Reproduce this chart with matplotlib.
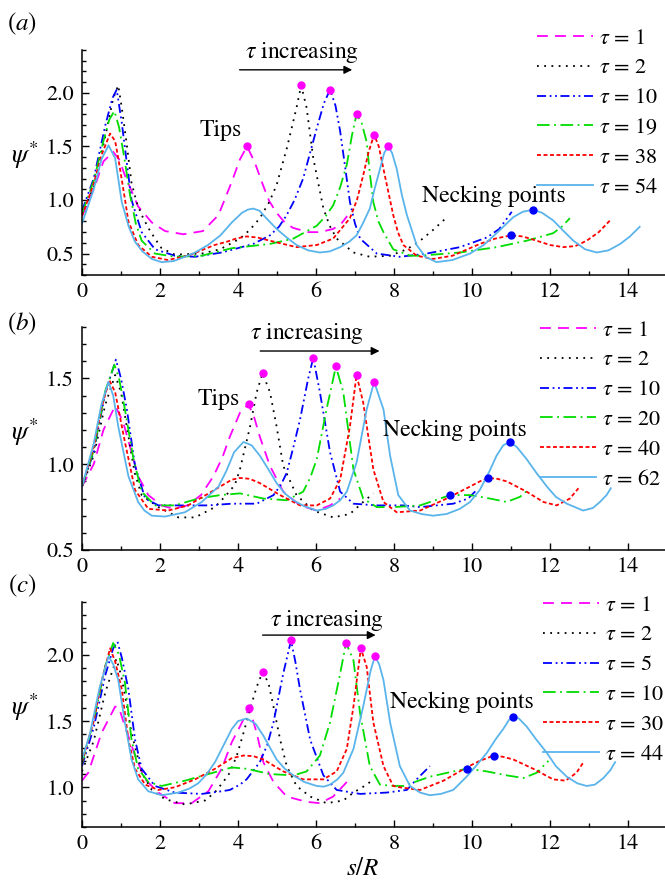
import matplotlib
matplotlib.use('Agg')
import matplotlib.pyplot as plt
from matplotlib.ticker import MultipleLocator

plt.rcParams['font.family'] = ['STIXGeneral', 'DejaVu Serif']
plt.rcParams['mathtext.fontset'] = 'stix'

# ---- panel (a) ----
a_labels = ['1', '2', '10', '19', '38', '54']
a_tau1 = [(0, 0.85), (0.3, 1.1), (0.55, 1.36), (0.8, 1.45), (0.95, 1.38), (1.1, 1.23), (1.44, 0.94),
          (1.79, 0.79), (2.13, 0.71), (2.6, 0.68), (3.1, 0.71), (3.5, 0.86), (3.84, 1.17), (4.05, 1.38),
          (4.23, 1.50), (4.42, 1.36), (4.64, 1.14), (4.8, 0.99), (4.99, 0.88), (5.2, 0.79), (5.41, 0.74),
          (5.8, 0.70), (6.1, 0.70), (6.44, 0.73), (6.65, 0.78), (6.8, 0.85)]
a_tau2 = [(0, 0.87), (0.3, 1.12), (0.6, 1.6), (0.8, 1.95), (0.93, 2.07), (1.02, 1.86), (1.14, 1.54),
          (1.27, 1.16), (1.4, 0.98), (1.53, 0.86), (1.7, 0.74), (1.87, 0.64), (2.04, 0.55), (2.38, 0.49),
          (3.07, 0.50), (3.54, 0.54), (4.05, 0.64), (4.3, 0.72), (4.56, 0.83), (4.8, 0.98), (4.99, 1.14),
          (5.25, 1.48), (5.5, 1.86), (5.62, 2.07), (5.76, 1.86), (5.93, 1.39), (6.19, 0.92), (6.35, 0.76),
          (6.53, 0.64), (6.96, 0.51), (7.38, 0.47), (7.9, 0.48), (8.33, 0.54), (8.67, 0.62), (9.0, 0.72),
          (9.33, 0.83)]
a_tau10 = [(0, 0.9), (0.3, 1.2), (0.6, 1.7), (0.78, 1.95), (0.89, 2.03), (1.02, 1.72), (1.19, 1.23),
           (1.27, 1.0), (1.53, 0.70), (1.87, 0.54), (2.38, 0.48), (2.9, 0.47), (3.58, 0.51), (3.79, 0.53),
           (4.39, 0.59), (4.82, 0.67), (5.05, 0.75), (5.25, 0.86), (5.45, 1.0), (5.67, 1.20), (6.02, 1.67),
           (6.2, 1.9), (6.36, 2.03), (6.5, 1.88), (6.62, 1.64), (6.75, 1.3), (6.87, 0.98), (7.0, 0.78),
           (7.13, 0.64), (7.56, 0.50), (8.15, 0.47), (8.84, 0.50), (9.69, 0.56), (10.38, 0.65),
           (10.7, 0.73), (11.02, 0.89)]
a_tau19 = [(0, 0.87), (0.3, 1.18), (0.55, 1.55), (0.7, 1.75), (0.83, 1.83), (0.95, 1.68), (1.1, 1.36),
           (1.23, 1.05), (1.38, 0.78), (1.53, 0.62), (1.87, 0.50), (2.38, 0.47), (3.07, 0.48), (3.84, 0.55),
           (4.82, 0.59), (5.42, 0.64), (6.02, 0.76), (6.25, 0.85), (6.44, 0.95), (6.62, 1.12), (6.79, 1.33),
           (6.92, 1.6), (7.04, 1.80), (7.17, 1.72), (7.3, 1.54), (7.38, 1.25), (7.47, 0.98), (7.6, 0.8),
           (7.73, 0.70), (7.98, 0.54), (8.41, 0.48), (8.67, 0.48), (9.69, 0.51), (10.63, 0.56),
           (11.4, 0.62), (12.08, 0.69), (12.3, 0.75), (12.51, 0.83)]
a_tau38 = [(0, 0.85), (0.3, 1.15), (0.5, 1.42), (0.72, 1.62), (0.85, 1.55), (0.93, 1.39), (1.1, 1.01),
           (1.19, 0.80), (1.44, 0.58), (1.79, 0.47), (2.2, 0.44), (2.72, 0.48), (3.4, 0.58), (3.71, 0.61),
           (3.95, 0.64), (4.22, 0.66), (4.5, 0.65), (4.82, 0.62), (5.5, 0.56), (6.02, 0.58), (6.44, 0.64),
           (6.87, 0.83), (7.05, 1.0), (7.21, 1.23), (7.35, 1.45), (7.49, 1.61), (7.61, 1.5), (7.73, 1.29),
           (7.98, 0.86), (8.1, 0.7), (8.24, 0.58), (8.58, 0.48), (9.0, 0.45), (9.5, 0.48), (10.2, 0.59),
           (10.6, 0.64), (11.0, 0.67), (11.3, 0.66), (11.66, 0.62), (12.0, 0.58), (12.34, 0.56),
           (12.65, 0.57), (12.94, 0.62), (13.25, 0.7), (13.54, 0.81)]
a_tau54 = [(0, 0.78), (0.3, 1.1), (0.5, 1.38), (0.68, 1.51), (0.85, 1.39), (1.02, 0.98), (1.2, 0.75),
           (1.36, 0.61), (1.55, 0.52), (1.79, 0.45), (2.04, 0.42), (2.35, 0.43), (2.64, 0.47), (2.9, 0.51),
           (3.23, 0.58), (3.55, 0.67), (3.84, 0.79), (4.1, 0.88), (4.25, 0.91), (4.39, 0.92), (4.55, 0.9),
           (4.7, 0.84), (4.99, 0.73), (5.25, 0.65), (5.5, 0.58), (5.8, 0.53), (6.1, 0.51), (6.35, 0.52),
           (6.62, 0.56), (6.85, 0.61), (7.04, 0.67), (7.2, 0.78), (7.38, 0.92), (7.5, 1.1), (7.64, 1.29),
           (7.75, 1.44), (7.85, 1.50), (7.95, 1.44), (8.07, 1.29), (8.2, 1.05), (8.33, 0.86), (8.58, 0.58),
           (8.8, 0.47), (9.09, 0.42), (9.5, 0.44), (9.95, 0.50), (10.3, 0.58), (10.63, 0.69), (11.06, 0.84),
           (11.3, 0.89), (11.57, 0.91), (11.8, 0.88), (12.08, 0.81), (12.35, 0.71), (12.6, 0.62),
           (12.9, 0.54), (13.2, 0.51), (13.5, 0.53), (13.8, 0.59), (14.05, 0.66), (14.3, 0.75)]
a_tips = [(4.23, 1.50), (5.62, 2.07), (6.36, 2.03), (7.04, 1.80), (7.49, 1.61), (7.85, 1.50)]
a_necks = [(11.0, 0.67), (11.57, 0.91)]

# ---- panel (b) ----
b_labels = ['1', '2', '10', '20', '40', '62']
b_tau1 = [(0, 0.87), (0.3, 1.0), (0.55, 1.2), (0.85, 1.34), (1.05, 1.25), (1.27, 1.07), (1.44, 0.93),
          (1.7, 0.82), (2.04, 0.76), (2.34, 0.74), (2.7, 0.76), (3.05, 0.82), (3.37, 0.93), (3.6, 1.04),
          (3.79, 1.16), (4.05, 1.3), (4.27, 1.35), (4.42, 1.27), (4.56, 1.16), (4.82, 0.99), (5.16, 0.84),
          (5.59, 0.76), (6.02, 0.73), (6.36, 0.76), (6.62, 0.80)]
b_tau2 = [(0, 0.87), (0.3, 1.05), (0.6, 1.35), (0.85, 1.52), (1.0, 1.42), (1.2, 1.15), (1.35, 0.95),
          (1.53, 0.82), (1.96, 0.75), (2.47, 0.69), (2.9, 0.69), (3.41, 0.75), (3.7, 0.82), (3.92, 0.88),
          (4.05, 0.97), (4.31, 1.22), (4.48, 1.42), (4.63, 1.53), (4.82, 1.42), (4.99, 1.22), (5.16, 0.99),
          (5.5, 0.82), (5.93, 0.73), (6.44, 0.69), (6.87, 0.71), (7.21, 0.78), (7.47, 0.83)]
b_tau10 = [(0, 0.87), (0.3, 1.07), (0.6, 1.42), (0.87, 1.61), (1.0, 1.5), (1.15, 1.32), (1.36, 0.99),
           (1.62, 0.80), (1.96, 0.76), (2.56, 0.76), (3.24, 0.76), (3.84, 0.77), (4.48, 0.77), (4.91, 0.82),
           (5.1, 0.88), (5.25, 0.95), (5.42, 1.1), (5.59, 1.26), (5.8, 1.5), (5.93, 1.62), (6.1, 1.42),
           (6.36, 1.07), (6.62, 0.84), (6.96, 0.77), (7.56, 0.76), (8.24, 0.76), (8.67, 0.75),
           (9.52, 0.77), (9.9, 0.8), (10.12, 0.85)]
b_tau20 = [(0, 0.87), (0.3, 1.08), (0.6, 1.43), (0.83, 1.58), (0.95, 1.5), (1.1, 1.32), (1.32, 1.03),
           (1.53, 0.84), (1.87, 0.76), (2.38, 0.76), (2.98, 0.80), (3.54, 0.82), (4.05, 0.83), (4.65, 0.80),
           (5.25, 0.79), (5.67, 0.84), (5.85, 0.92), (6.02, 1.03), (6.27, 1.32), (6.51, 1.57), (6.7, 1.42),
           (6.96, 0.97), (7.21, 0.80), (7.56, 0.75), (8.0, 0.75), (8.67, 0.76), (9.44, 0.82), (9.95, 0.82),
           (10.46, 0.80), (10.89, 0.78), (11.23, 0.81), (11.44, 0.85)]
b_tau40 = [(0, 0.87), (0.3, 1.1), (0.5, 1.33), (0.7, 1.49), (0.85, 1.42), (1.1, 1.13), (1.36, 0.85),
           (1.7, 0.74), (2.21, 0.73), (2.72, 0.76), (3.32, 0.84), (3.84, 0.91), (4.05, 0.92), (4.3, 0.915),
           (4.56, 0.89), (5.08, 0.82), (5.59, 0.76), (6.02, 0.76), (6.36, 0.80), (6.62, 0.91), (6.87, 1.22),
           (7.04, 1.52), (7.21, 1.36), (7.47, 0.97), (7.73, 0.78), (8.07, 0.72), (8.67, 0.73), (9.35, 0.80),
           (9.95, 0.87), (10.2, 0.9), (10.42, 0.92), (10.65, 0.915), (10.89, 0.90), (11.4, 0.84),
           (11.83, 0.78), (12.17, 0.76), (12.51, 0.80), (12.73, 0.86)]
b_tau62 = [(0, 0.87), (0.3, 1.12), (0.5, 1.35), (0.68, 1.48), (0.8, 1.4), (0.93, 1.22), (1.19, 0.93),
           (1.44, 0.78), (1.6, 0.73), (1.79, 0.70), (2.13, 0.695), (2.64, 0.72), (3.07, 0.78), (3.5, 0.87),
           (3.7, 0.96), (3.9, 1.07), (4.14, 1.13), (4.35, 1.11), (4.56, 1.05), (4.78, 0.97), (4.99, 0.89),
           (5.2, 0.83), (5.42, 0.79), (5.7, 0.755), (6.02, 0.73), (6.25, 0.74), (6.44, 0.76), (6.62, 0.79),
           (6.79, 0.84), (7.04, 1.01), (7.3, 1.32), (7.49, 1.48), (7.73, 1.32), (7.9, 1.05), (8.11, 0.82),
           (8.41, 0.73), (8.7, 0.71), (9.0, 0.70), (9.35, 0.71), (9.69, 0.74), (9.95, 0.78), (10.2, 0.85),
           (10.45, 0.96), (10.63, 1.05), (10.8, 1.11), (10.97, 1.13), (11.15, 1.1), (11.4, 1.03),
           (11.65, 0.95), (11.92, 0.87), (12.15, 0.81), (12.43, 0.77), (12.85, 0.73), (13.1, 0.745),
           (13.28, 0.78), (13.45, 0.82), (13.56, 0.86)]
b_tips = [(4.27, 1.35), (4.63, 1.53), (5.93, 1.62), (6.51, 1.57), (7.04, 1.52), (7.49, 1.48)]
b_necks = [(9.44, 0.82), (10.42, 0.92), (10.97, 1.13)]

# ---- panel (c) ----
c_labels = ['1', '2', '5', '10', '30', '44']
c_tau1 = [(0, 1.05), (0.16, 1.11), (0.5, 1.41), (0.85, 1.61), (0.95, 1.6), (1.1, 1.46), (1.36, 1.24),
          (1.62, 1.06), (1.96, 0.96), (2.38, 0.88), (2.81, 0.88), (3.24, 0.97), (3.58, 1.14), (3.84, 1.34),
          (4.05, 1.46), (4.29, 1.60), (4.48, 1.41), (4.65, 1.19), (4.91, 1.04), (5.25, 0.93), (5.76, 0.89),
          (6.1, 0.88), (6.44, 0.93), (6.79, 1.04)]
c_tau2 = [(0, 1.12), (0.3, 1.35), (0.6, 1.72), (0.88, 1.97), (1.0, 1.85), (1.15, 1.62), (1.27, 1.41),
          (1.53, 1.11), (1.79, 0.98), (2.13, 0.91), (2.64, 0.87), (3.15, 0.90), (3.4, 0.96), (3.62, 1.04),
          (3.79, 1.11), (3.97, 1.24), (4.14, 1.41), (4.31, 1.59), (4.48, 1.76), (4.63, 1.87), (4.78, 1.79),
          (4.91, 1.61), (5.08, 1.36), (5.25, 1.16), (5.5, 1.01), (5.85, 0.93), (6.27, 0.88), (6.7, 0.90),
          (6.96, 0.96), (7.3, 1.02), (7.47, 1.06)]
c_tau5 = [(0, 1.16), (0.3, 1.45), (0.6, 1.85), (0.8, 2.05), (0.91, 2.10), (1.02, 1.98), (1.19, 1.74),
          (1.36, 1.36), (1.53, 1.14), (1.87, 1.01), (2.38, 0.96), (3.07, 0.95), (3.58, 0.97), (3.79, 0.98),
          (4.05, 1.02), (4.22, 1.06), (4.56, 1.19), (4.75, 1.32), (4.91, 1.49), (5.16, 1.86), (5.36, 2.11),
          (5.47, 1.95), (5.59, 1.74), (5.85, 1.36), (6.19, 1.09), (6.53, 0.98), (7.13, 0.95), (7.81, 0.96),
          (8.33, 0.98), (8.58, 1.06), (8.92, 1.16)]
c_tau10 = [(0, 1.18), (0.3, 1.5), (0.6, 1.92), (0.8, 2.09), (0.95, 2.0), (1.1, 1.79), (1.27, 1.36),
           (1.44, 1.14), (1.7, 1.04), (2.04, 1.01), (2.64, 1.05), (3.24, 1.10), (3.84, 1.15), (4.22, 1.14),
           (4.82, 1.10), (5.42, 1.09), (5.76, 1.12), (6.1, 1.24), (6.36, 1.49), (6.62, 1.86), (6.77, 2.09),
           (6.96, 1.96), (7.13, 1.56), (7.38, 1.16), (7.64, 1.02), (7.98, 1.01), (8.24, 1.01), (8.92, 1.08),
           (9.52, 1.12), (9.88, 1.14), (10.38, 1.12), (10.89, 1.09), (11.32, 1.07), (11.66, 1.11),
           (11.96, 1.20)]
c_tau30 = [(0, 1.19), (0.3, 1.5), (0.5, 1.8), (0.72, 2.05), (0.85, 1.95), (1.02, 1.74), (1.19, 1.36),
           (1.36, 1.14), (1.62, 1.02), (1.96, 0.98), (2.38, 1.0), (2.9, 1.06), (3.41, 1.14), (3.84, 1.22),
           (4.14, 1.24), (4.4, 1.235), (4.65, 1.21), (5.16, 1.12), (5.67, 1.06), (6.19, 1.06), (6.53, 1.12),
           (6.79, 1.29), (6.96, 1.61), (7.15, 2.05), (7.3, 1.91), (7.47, 1.49), (7.73, 1.16), (7.98, 1.01),
           (8.15, 1.0), (8.67, 0.98), (9.27, 1.05), (9.86, 1.15), (10.2, 1.2), (10.56, 1.24), (10.8, 1.23),
           (11.06, 1.21), (11.57, 1.14), (12.08, 1.06), (12.4, 1.05), (12.68, 1.11), (12.86, 1.19)]
c_tau44 = [(0, 1.21), (0.2, 1.4), (0.45, 1.75), (0.68, 1.99), (0.8, 1.93), (0.93, 1.81), (1.1, 1.49),
           (1.27, 1.21), (1.44, 1.06), (1.7, 0.97), (2.04, 0.94), (2.47, 0.96), (2.75, 0.99), (2.98, 1.03),
           (3.2, 1.1), (3.41, 1.19), (3.6, 1.3), (3.84, 1.44), (4.0, 1.5), (4.22, 1.52), (4.45, 1.48),
           (4.65, 1.39), (4.82, 1.3), (4.99, 1.21), (5.2, 1.14), (5.42, 1.09), (5.7, 1.04), (6.02, 1.01),
           (6.2, 1.005), (6.36, 1.02), (6.55, 1.06), (6.7, 1.11), (6.96, 1.29), (7.21, 1.61), (7.4, 1.88),
           (7.51, 1.99), (7.62, 1.93), (7.73, 1.81), (7.9, 1.49), (8.15, 1.16), (8.41, 1.01), (8.67, 0.96),
           (8.92, 0.94), (9.2, 0.95), (9.52, 0.98), (9.86, 1.08), (10.1, 1.16), (10.38, 1.26), (10.6, 1.36),
           (10.8, 1.44), (10.95, 1.51), (11.06, 1.53), (11.2, 1.52), (11.4, 1.46), (11.65, 1.36),
           (11.92, 1.26), (12.15, 1.16), (12.43, 1.08), (12.7, 1.03), (12.94, 1.01), (13.15, 1.02),
           (13.37, 1.07), (13.55, 1.13), (13.67, 1.19)]
c_tips = [(4.29, 1.60), (4.63, 1.87), (5.36, 2.11), (6.77, 2.09), (7.15, 2.05), (7.51, 1.99)]
c_necks = [(9.88, 1.14), (10.56, 1.24), (11.06, 1.53)]

# line styles, one per tau (same order in every panel)
colors = ['#ff00ff', 'black', '#0000ff', '#00dd00', '#ff0000', '#5ab4ec']
dashes = [(0, (6, 4)), (0, (1, 3)), (0, (5, 2, 1, 2, 1, 2)), (0, (7, 2.5, 1, 2.5)), (0, (2.2, 1.4)), '-']

fig = plt.figure(figsize=(6.65, 8.85), dpi=100)
W, H = 665.0, 885.0

panels = [
    dict(curves=[a_tau1, a_tau2, a_tau10, a_tau19, a_tau38, a_tau54], labels=a_labels,
         tips=a_tips, necks=a_necks, top=50, bot=275, ylim=(0.3, 2.4), tag='($a$)', tagy=24,
         legx=537, legy=40, tips_txt=(3.55, 1.65), neck_txt=(10.55, 1.03),
         inc_txt=(5.65, 2.375), arrow=(3.97, 7.0, 2.215)),
    dict(curves=[b_tau1, b_tau2, b_tau10, b_tau20, b_tau40, b_tau62], labels=b_labels,
         tips=b_tips, necks=b_necks, top=327, bot=550, ylim=(0.5, 1.8), tag='($b$)', tagy=324,
         legx=540, legy=332, tips_txt=(3.5, 1.38), neck_txt=(9.55, 1.20),
         inc_txt=(5.77, 1.76), arrow=(4.5, 7.7, 1.66)),
    dict(curves=[c_tau1, c_tau2, c_tau5, c_tau10, c_tau30, c_tau44], labels=c_labels,
         tips=c_tips, necks=c_necks, top=602, bot=827, ylim=(0.7, 2.4), tag='($c$)', tagy=586,
         legx=543, legy=607, tips_txt=None, neck_txt=(9.75, 1.64),
         inc_txt=(6.28, 2.26), arrow=(4.56, 7.6, 2.15)),
]

for p in panels:
    ax = fig.add_axes([82 / W, 1 - p['bot'] / H, 39 * 15 / W, (p['bot'] - p['top']) / H])
    handles = []
    for pts, lab, col, ls in zip(p['curves'], p['labels'], colors, dashes):
        xs = [q[0] for q in pts]
        ys = [q[1] for q in pts]
        ln, = ax.plot(xs, ys, color=col, linestyle=ls, lw=1.3, label=r'$\tau$ = ' + lab)
        handles.append(ln)
    ax.plot([q[0] for q in p['tips']], [q[1] for q in p['tips']], 'o', color='#ff00ff', ms=5, zorder=5)
    ax.plot([q[0] for q in p['necks']], [q[1] for q in p['necks']], 'o', color='#0000ff', ms=5, zorder=5)

    ax.set_xlim(0, 15)
    ax.set_ylim(*p['ylim'])
    ax.xaxis.set_major_locator(MultipleLocator(2))
    ax.xaxis.set_minor_locator(MultipleLocator(1))
    ax.yaxis.set_major_locator(MultipleLocator(0.5))
    ax.yaxis.set_minor_locator(MultipleLocator(0.1))
    ax.tick_params(which='both', direction='in', labelsize=16, width=1)
    ax.tick_params(which='major', length=5)
    ax.tick_params(which='minor', length=3)
    ax.tick_params(axis='x', pad=5)
    ax.tick_params(axis='y', pad=6)
    for sp in ['top', 'right']:
        ax.spines[sp].set_visible(False)
    for sp in ['left', 'bottom']:
        ax.spines[sp].set_linewidth(1.1)

    if p['tips_txt'] is not None:
        ax.text(*p['tips_txt'], 'Tips', fontsize=17, ha='center', va='center')
    ax.text(*p['neck_txt'], 'Necking points', fontsize=17, ha='center', va='center')
    ax.text(*p['inc_txt'], r'$\tau$ increasing', fontsize=17, ha='center', va='center')
    x0, x1, ya = p['arrow']
    ax.annotate('', xy=(x1, ya), xytext=(x0, ya),
                arrowprops=dict(arrowstyle='-|>', color='black', lw=1, mutation_scale=12))

    fig.legend(handles=handles, loc='upper left',
               bbox_to_anchor=(p['legx'] / W, 1 - (p['legy'] - 12) / H),
               frameon=False, fontsize=16, handlelength=2.5, handletextpad=0.3,
               labelspacing=0.42, borderpad=0, borderaxespad=0)

    fig.text(25 / W, 1 - (p['top'] + 105) / H, r'$\psi^{*}$', fontsize=19, ha='center', va='center')
    fig.text(22 / W, 1 - p['tagy'] / H, p['tag'], fontsize=18, ha='center', va='center')

fig.text(363 / W, 1 - 869 / H, r'$s/R$', fontsize=18, ha='center', va='center')

plt.savefig('out.png', dpi=100)
